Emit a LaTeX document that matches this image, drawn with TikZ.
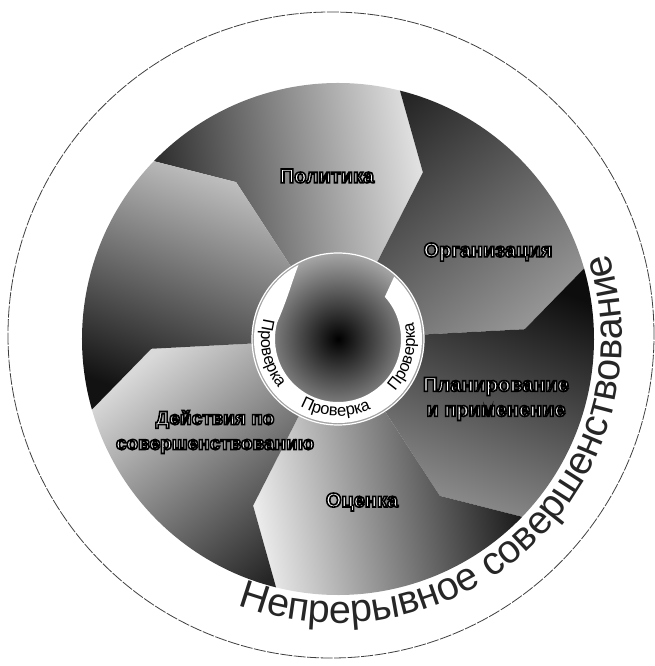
\documentclass[tikz,border=0pt]{standalone}
\usepackage{fontspec}
\setmainfont{Liberation Sans}
\usetikzlibrary{decorations.text}
\newcommand{\outl}{\special{pdf:literal direct 0 0 0 RG 1.6 w 2 Tr}}
\tikzset{
  lbl/.style={font=\bfseries\fontsize{20}{25}\selectfont, text=white, align=center, inner sep=0pt},
  lblsmall/.style={lbl, font=\bfseries\fontsize{19}{25}\selectfont},
  ringtext/.style={decorate, decoration={text along path, text align=center,
      text={|\fontsize{16.5}{16.5}\selectfont|Проверка}}},
}
\begin{document}
\begin{tikzpicture}[x=1pt,y=1pt]
\useasboundingbox (-338,-327) rectangle (317,339);
% six chevron sectors (trailing boundary angle / dark / light)
\foreach \t/\d/\l in {123/black!85/black!12, 63/black!85/black!42, 3/black!95/black!42, -57/black!93/black!8, -117/black!85/black!15, 183/black!93/black!20}{
  \pgfmathsetmacro\a{\t-24-180}
  \path[top color=\l, bottom color=\d, shading angle=\a]
    (0,0) -- (\t:187) -- (\t+13:256) arc[start angle=\t+13, end angle=\t-47, radius=256]
    -- (\t-60:187) -- cycle;
}
% centre disc
\fill[inner color=black, outer color=black!35] (0,0) circle[radius=86];
\draw[white, line width=1.2] (0,0) circle[radius=86];
% white ring band, tapering at its upper-left end
\fill[white] (118:84) arc[start angle=118, end angle=408, radius=84]
  -- (402:63) arc[start angle=402, end angle=165, radius=63]
  .. controls (140:65) and (126:76) .. (118:84) -- cycle;
% ring texts
\path[ringtext] (152:77) arc[start angle=152, end angle=232, radius=77];
\path[ringtext] (228:77) arc[start angle=228, end angle=308, radius=77];
\path[ringtext] (305:77) arc[start angle=305, end angle=385, radius=77];
% labels
\node[lbl] (pol) at (-11,163) {\outl Политика};
\node[lbl] (org) at (150,87) {\outl Организация};
\node[lbl] (plan) at (158,-60) {\outl Планирование\\и применение};
\node[lbl] (oc) at (24,-163) {\outl Оценка};
\node[lblsmall] (dei) at (-123,-93) {\outl Действия по\\совершенствованию};
% outer text
\path[decorate, decoration={text along path, text align=center,
   text={|\fontsize{39.5}{39.5}\selectfont\color{black!85}|Непрерывное совершенствование}}]
   (236:284) arc[start angle=236, end angle=391, radius=284];
% outer circle
\draw[black!75, line width=0.8, dash pattern=on 12pt off 1.5pt] (-7,4) circle[radius=323];
\end{tikzpicture}
\end{document}
